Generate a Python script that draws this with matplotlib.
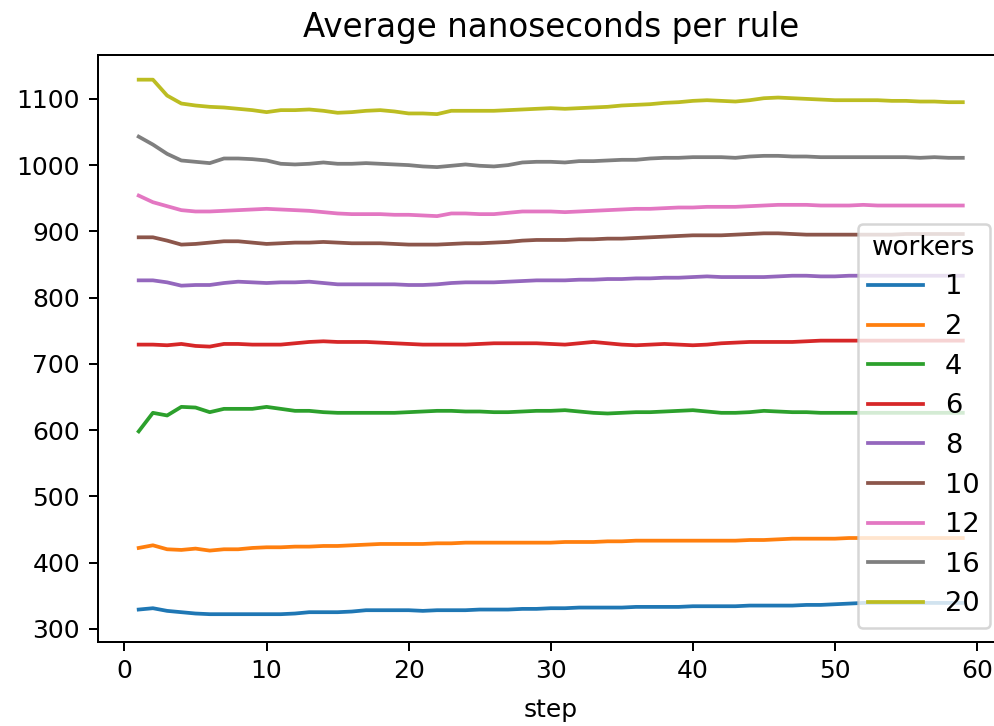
import matplotlib
matplotlib.use("Agg")
import matplotlib.pyplot as plt

steps = list(range(1, 60))
workers = ["1", "2", "4", "6", "8", "10", "12", "16", "20"]

w1 = [329, 331, 327, 325, 323, 322, 322, 322, 322, 322, 322, 323, 325, 325, 325, 326, 328, 328, 328, 328,
      327, 328, 328, 328, 329, 329, 329, 330, 330, 331, 331, 332, 332, 332, 332, 333, 333, 333, 333, 334,
      334, 334, 334, 335, 335, 335, 335, 336, 336, 337, 338, 339, 339, 339, 339, 339, 339, 339, 339]
w2 = [422, 426, 420, 419, 421, 418, 420, 420, 422, 423, 423, 424, 424, 425, 425, 426, 427, 428, 428, 428,
      428, 429, 429, 430, 430, 430, 430, 430, 430, 430, 431, 431, 431, 432, 432, 433, 433, 433, 433, 433,
      433, 433, 433, 434, 434, 435, 436, 436, 436, 436, 437, 437, 437, 437, 437, 437, 437, 437, 437]
w4 = [598, 626, 622, 635, 634, 627, 632, 632, 632, 635, 632, 629, 629, 627, 626, 626, 626, 626, 626, 627,
      628, 629, 629, 628, 628, 627, 627, 628, 629, 629, 630, 628, 626, 625, 626, 627, 627, 628, 629, 630,
      628, 626, 626, 627, 629, 628, 627, 627, 626, 626, 626, 626, 626, 626, 626, 626, 626, 626, 626]
w6 = [729, 729, 728, 730, 727, 726, 730, 730, 729, 729, 729, 731, 733, 734, 733, 733, 733, 732, 731, 730,
      729, 729, 729, 729, 730, 731, 731, 731, 731, 730, 729, 731, 733, 731, 729, 728, 729, 730, 729, 728,
      729, 731, 732, 733, 733, 733, 733, 734, 735, 735, 735, 735, 735, 735, 735, 735, 735, 735, 735]
w8 = [826, 826, 823, 818, 819, 819, 822, 824, 823, 822, 823, 823, 824, 822, 820, 820, 820, 820, 820, 819,
      819, 820, 822, 823, 823, 823, 824, 825, 826, 826, 826, 827, 827, 828, 828, 829, 829, 830, 830, 831,
      832, 831, 831, 831, 831, 832, 833, 833, 832, 832, 833, 833, 833, 833, 833, 833, 833, 833, 833]
w10 = [891, 891, 886, 880, 881, 883, 885, 885, 883, 881, 882, 883, 883, 884, 883, 882, 882, 882, 881, 880,
       880, 880, 881, 882, 882, 883, 884, 886, 887, 887, 887, 888, 888, 889, 889, 890, 891, 892, 893, 894,
       894, 894, 895, 896, 897, 897, 896, 895, 895, 895, 895, 895, 895, 895, 896, 896, 896, 896, 896]
w12 = [954, 944, 938, 932, 930, 930, 931, 932, 933, 934, 933, 932, 931, 929, 927, 926, 926, 926, 925, 925,
       924, 923, 927, 927, 926, 926, 928, 930, 930, 930, 929, 930, 931, 932, 933, 934, 934, 935, 936, 936,
       937, 937, 937, 938, 939, 940, 940, 940, 939, 939, 939, 940, 939, 939, 939, 939, 939, 939, 939]
w16 = [1043, 1031, 1017, 1007, 1005, 1003, 1010, 1010, 1009, 1007, 1002, 1001, 1002, 1004, 1002, 1002, 1003, 1002, 1001, 1000,
       998, 997, 999, 1001, 999, 998, 1000, 1004, 1005, 1005, 1004, 1006, 1006, 1007, 1008, 1008, 1010, 1011, 1011, 1012,
       1012, 1012, 1011, 1013, 1014, 1014, 1013, 1013, 1012, 1012, 1012, 1012, 1012, 1012, 1012, 1011, 1012, 1011, 1011]
w20 = [1129, 1129, 1105, 1093, 1090, 1088, 1087, 1085, 1083, 1080, 1083, 1083, 1084, 1082, 1079, 1080, 1082, 1083, 1081, 1078,
       1078, 1077, 1082, 1082, 1082, 1082, 1083, 1084, 1085, 1086, 1085, 1086, 1087, 1088, 1090, 1091, 1092, 1094, 1095, 1097,
       1098, 1097, 1096, 1098, 1101, 1102, 1101, 1100, 1099, 1098, 1098, 1098, 1098, 1097, 1097, 1096, 1096, 1095, 1095]

series = [w1, w2, w4, w6, w8, w10, w12, w16, w20]

fig = plt.figure(figsize=(994 / 180, 726 / 180), dpi=180)
ax = fig.add_axes([97.5 / 994, (726 - 642) / 726, (1004 - 97.5) / 994, (642 - 54.5) / 726])

for name, vals in zip(workers, series):
    ax.plot(steps, vals, label=name)

ax.set_xlim(-1.9, 61.9)
ax.set_ylim(280, 1167)
ax.set_xticks([0, 10, 20, 30, 40, 50, 60])
ax.set_yticks([300, 400, 500, 600, 700, 800, 900, 1000, 1100])
ax.set_title("Average nanoseconds per rule", fontsize=13, pad=7)
ax.set_xlabel("step", labelpad=6)
ax.legend(title="workers", loc="lower right", fontsize=10.9, title_fontsize=10.5)

fig.savefig("out.png", dpi=180)
